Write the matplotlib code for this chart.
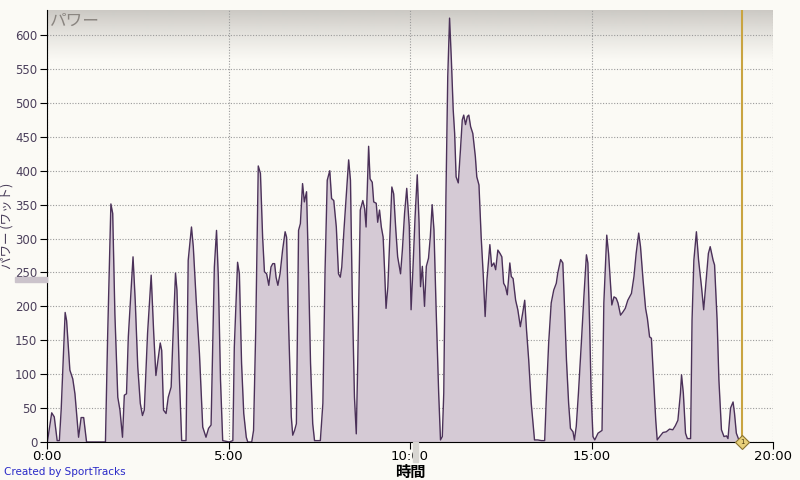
import numpy as np
import matplotlib
matplotlib.use("Agg")
import matplotlib.pyplot as plt
from matplotlib.patches import Rectangle
import matplotlib.transforms as mtransforms

plt.rcParams['font.family'] = ['DejaVu Sans', 'Noto Sans CJK JP']

# time in minutes, power in watts
minutes = [
    0.00, 0.01, 0.13, 0.20, 0.28, 0.34, 0.39, 0.50, 0.54, 0.63, 0.71, 0.77, 0.87, 0.94, 1.01, 1.09,
    1.61, 1.67, 1.76, 1.81, 1.87, 1.95, 2.01, 2.08, 2.13, 2.19, 2.24, 2.37, 2.43, 2.50, 2.57, 2.63,
    2.68, 2.77, 2.87, 2.94, 3.00, 3.05, 3.12, 3.16, 3.21, 3.28, 3.34, 3.42, 3.46, 3.54, 3.58, 3.65,
    3.71, 3.83, 3.89, 3.98, 4.03, 4.11, 4.20, 4.29, 4.38, 4.45, 4.52, 4.61, 4.67, 4.72, 4.78, 4.84,
    5.02, 5.12, 5.16, 5.25, 5.30, 5.36, 5.42, 5.49, 5.53, 5.64, 5.69, 5.75, 5.82, 5.88, 5.94, 5.99,
    6.05, 6.11, 6.17, 6.22, 6.27, 6.31, 6.36, 6.42, 6.49, 6.56, 6.60, 6.66, 6.73, 6.77, 6.82, 6.87,
    6.93, 6.98, 7.04, 7.09, 7.15, 7.20, 7.26, 7.32, 7.37, 7.53, 7.60, 7.66, 7.72, 7.79, 7.84, 7.90,
    7.97, 8.03, 8.08, 8.12, 8.18, 8.24, 8.31, 8.36, 8.41, 8.47, 8.52, 8.56, 8.63, 8.70, 8.75, 8.79,
    8.86, 8.90, 8.96, 9.00, 9.07, 9.11, 9.16, 9.21, 9.26, 9.30, 9.34, 9.39, 9.43, 9.50, 9.55, 9.61,
    9.66, 9.74, 9.79, 9.85, 9.91, 9.98, 10.03, 10.08, 10.14, 10.20, 10.25, 10.29, 10.34, 10.40, 10.45,
    10.51, 10.56, 10.61, 10.66, 10.72, 10.79, 10.84, 10.89, 10.93, 10.99, 11.04, 11.09, 11.14, 11.19,
    11.23, 11.27, 11.33, 11.39, 11.44, 11.48, 11.53, 11.58, 11.62, 11.67, 11.73, 11.80, 11.84, 11.90,
    11.96, 12.02, 12.07, 12.12, 12.20, 12.25, 12.31, 12.36, 12.42, 12.48, 12.53, 12.58, 12.63, 12.68,
    12.75, 12.79, 12.84, 12.91, 12.97, 13.04, 13.11, 13.16, 13.21, 13.27, 13.34, 13.43, 13.52, 13.62,
    13.71, 13.76, 13.82, 13.89, 13.96, 14.03, 14.07, 14.15, 14.21, 14.26, 14.31, 14.37, 14.42, 14.49,
    14.53, 14.58, 14.64, 14.72, 14.79, 14.86, 14.90, 14.95, 14.99, 15.04, 15.09, 15.18, 15.29, 15.34,
    15.42, 15.47, 15.56, 15.62, 15.68, 15.73, 15.80, 15.87, 15.93, 16.00, 16.10, 16.17, 16.23, 16.30,
    16.35, 16.42, 16.49, 16.54, 16.60, 16.65, 16.71, 16.77, 16.81, 16.88, 16.97, 17.06, 17.15, 17.24,
    17.31, 17.38, 17.45, 17.48, 17.53, 17.59, 17.64, 17.73, 17.77, 17.82, 17.89, 17.95, 18.03, 18.09,
    18.16, 18.22, 18.27, 18.35, 18.39, 18.46, 18.51, 18.58, 18.65, 18.72, 18.76, 18.83, 18.90, 18.94,
    18.99, 19.06, 19.13,
]
watts = [
    0, 0, 43, 37, 2, 2, 47, 191, 179, 106, 93, 71, 7, 36, 36, 0,
    0, 155, 351, 337, 189, 66, 47, 7, 69, 71, 155, 273, 209, 111, 57, 39,
    47, 160, 246, 160, 98, 118, 146, 135, 47, 42, 66, 81, 140, 249, 224, 91,
    2, 2, 268, 317, 288, 209, 130, 22, 7, 20, 25, 258, 312, 243, 91, 2,
    0, 2, 140, 265, 248, 116, 42, 7, 0, 0, 17, 165, 407, 396, 302, 251,
    248, 231, 258, 263, 263, 243, 231, 248, 283, 310, 302, 165, 37, 10, 17, 27,
    312, 322, 381, 354, 369, 263, 116, 27, 2, 2, 57, 253, 386, 400, 359, 356,
    317, 248, 243, 258, 312, 361, 416, 386, 214, 66, 12, 116, 342, 356, 344, 317,
    436, 388, 383, 354, 352, 324, 342, 317, 302, 253, 197, 229, 283, 376, 366, 312,
    273, 248, 283, 337, 374, 318, 195, 254, 332, 394, 323, 229, 259, 200, 259,
    271, 303, 350, 313, 195, 72, 3, 8, 72, 362, 539, 625, 563, 490,
    455, 391, 382, 431, 475, 482, 468, 480, 482, 465, 455, 421, 391, 379,
    303, 244, 185, 239, 291, 259, 264, 254, 283, 278, 273, 234, 229, 217,
    264, 244, 241, 209, 195, 170, 192, 209, 165, 121, 57, 3, 3, 2,
    2, 72, 146, 205, 224, 234, 249, 269, 264, 195, 121, 57, 20, 15,
    3, 23, 72, 146, 214, 276, 264, 170, 72, 8, 3, 13, 17, 205,
    305, 278, 202, 214, 212, 205, 187, 192, 197, 209, 219, 244, 278, 308,
    288, 239, 197, 182, 155, 153, 91, 32, 3, 8, 14, 15, 19, 18,
    24, 32, 72, 99, 72, 13, 5, 5, 180, 268, 310, 268, 229, 195,
    239, 278, 288, 268, 261, 180, 91, 18, 8, 9, 5, 50, 59, 42,
    13, 3, 0,
]
x_ticks = [0, 5, 10, 15, 20]
x_tick_labels = ["0:00", "5:00", "10:00", "15:00", "20:00"]
y_ticks = [0, 50, 100, 150, 200, 250, 300, 350, 400, 450, 500, 550, 600]
marker_time = 19.15

bg = '#fbfaf5'
fig = plt.figure(figsize=(8, 4.8), dpi=100, facecolor=bg)
ax = fig.add_axes([0.05875, 0.0792, 0.9075, 0.9])
ax.set_facecolor(bg)

# grey gradient band at the top of the plot
fade = np.linspace(0, 1, 100)
grad_rgba = np.zeros((100, 1, 4))
grad_rgba[:, 0, 0] = 0.80
grad_rgba[:, 0, 1] = 0.79
grad_rgba[:, 0, 2] = 0.77
grad_rgba[:, 0, 3] = (1 - fade) ** 1.2
ax.imshow(grad_rgba, extent=[0, 1, 0.88, 1.0], transform=ax.transAxes,
          aspect='auto', zorder=0, interpolation='bilinear')

ax.fill_between(minutes, watts, color='#d5cad5', zorder=2, linewidth=0)
ax.plot(minutes, watts, color='#4b3159', linewidth=1.0, zorder=3)

ax.set_xlim(0, 20)
ax.set_ylim(0, 637)
ax.set_xticks(x_ticks)
ax.set_xticklabels(x_tick_labels)
ax.set_yticks(y_ticks)
ax.grid(True, color='#9a9a9a', linestyle=(0, (1, 1.5)), linewidth=0.8, zorder=1)
ax.set_axisbelow(True)

for s in ['top', 'right']:
    ax.spines[s].set_visible(False)
ax.spines['left'].set_color('black')
ax.spines['bottom'].set_color('black')
ax.spines['left'].set_zorder(5)
ax.spines['bottom'].set_zorder(5)
ax.tick_params(axis='y', length=5, colors='black', labelcolor='#4a3e5a', labelsize=8.5, pad=2)
ax.tick_params(axis='x', length=5, colors='black', labelcolor='black', labelsize=9.5, pad=1)

# cursor line and marker
ax.axvline(marker_time, color='#c9a441', linewidth=1.5, zorder=4)
ax.plot([marker_time], [0], marker='D', markersize=7, markerfacecolor='#e8d07a',
        markeredgecolor='#8a7330', markeredgewidth=0.8, clip_on=False, zorder=6)
ax.text(marker_time, 0, "1", fontsize=5, color='#4a3a10', ha='center', va='center',
        zorder=7, clip_on=False)

# grey cursor highlights on the axes
ytrans = mtransforms.blended_transform_factory(fig.transFigure, ax.transData)
fig.patches.append(Rectangle((15 / 800, 236), 32 / 800, 8, transform=ytrans,
                             color='#cbc3cb', zorder=0))
xtrans = mtransforms.blended_transform_factory(ax.transData, fig.transFigure)
fig.patches.append(Rectangle((10.07, 18 / 480), 0.14, 20 / 480, transform=xtrans,
                             color='#d8d6d2', zorder=0))

ax.text(0.004, 0.994, "パワー", transform=ax.transAxes, fontsize=12, color='#8a8580',
        style='italic', va='top', ha='left', family=['Noto Sans CJK JP'], zorder=6)

ax.set_ylabel("パワー (ワット)", fontsize=9, color='#4a3e5a', family=['Noto Sans CJK JP'])
ax.yaxis.set_label_coords(-0.046, 0.50)
ax.set_xlabel("時間", fontsize=11, fontweight='bold', color='black',
              family=['Noto Sans CJK JP'], labelpad=0)
ax.xaxis.set_label_coords(0.5, -0.05)

fig.text(4 / 800, 1 - 472 / 480, "Created by SportTracks", fontsize=7.5, color='#2a2ac8',
         va='center', ha='left')

fig.savefig("out.png", dpi=100, facecolor=bg)
